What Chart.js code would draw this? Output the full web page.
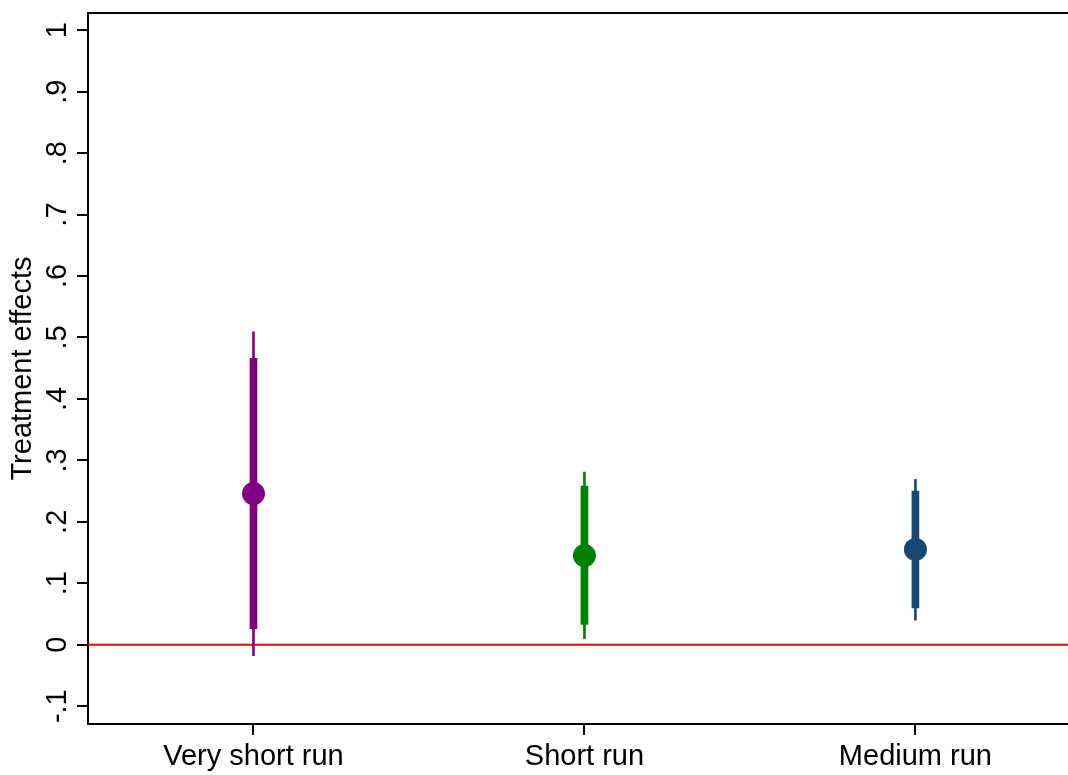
<!DOCTYPE html>
<html lang="en">
<head>
  <meta charset="UTF-8">
  <title>Treatment effects</title>
  <script src="https://cdn.jsdelivr.net/npm/chart.js"></script>
  <style>
    html, body {
      margin: 0;
      padding: 0;
      overflow: hidden;
      background: #fff;
    }
    canvas {
      display: block;
    }
  </style>
</head>
<body>
  <canvas id="effectsChart" width="1068" height="775"></canvas>
  <script>
    // data
    const categories = ['Very short run', 'Short run', 'Medium run'];
    const positions = [1, 2, 3];
    const estimates = [0.246, 0.145, 0.155];
    const ci90Low = [0.026, 0.033, 0.060];
    const ci90High = [0.466, 0.258, 0.250];
    const ci95Low = [-0.018, 0.010, 0.040];
    const ci95High = [0.509, 0.281, 0.269];
    const colors = ['#800080', '#008000', '#1a476f'];
    const yTicks = [-0.1, 0, 0.1, 0.2, 0.3, 0.4, 0.5, 0.6, 0.7, 0.8, 0.9, 1];
    const yTickLabels = ['-.1', '0', '.1', '.2', '.3', '.4', '.5', '.6', '.7', '.8', '.9', '1'];
    const refLine = 0;

    const FONT = 'Arial, "Liberation Sans", sans-serif';
    const FONT_SIZE = 29;

    // red reference line, top frame line and rotated y tick labels
    const frameAndLabels = {
      id: 'frameAndLabels',
      beforeDatasetsDraw(chart) {
        const { ctx, chartArea, scales } = chart;
        const y0 = scales.y.getPixelForValue(refLine);
        ctx.save();
        ctx.strokeStyle = '#ff0000';
        ctx.lineWidth = 2;
        ctx.beginPath();
        ctx.moveTo(chartArea.left, y0);
        ctx.lineTo(chartArea.right, y0);
        ctx.stroke();
        ctx.strokeStyle = '#000';
        ctx.beginPath();
        ctx.moveTo(chartArea.left - 1, chartArea.top);
        ctx.lineTo(chartArea.right, chartArea.top);
        ctx.stroke();
        ctx.restore();
      },
      afterDraw(chart) {
        const { ctx, scales } = chart;
        ctx.save();
        ctx.fillStyle = '#000';
        ctx.font = FONT_SIZE + 'px ' + FONT;
        ctx.textAlign = 'center';
        ctx.textBaseline = 'alphabetic';
        yTicks.forEach((v, i) => {
          const py = scales.y.getPixelForValue(v);
          ctx.save();
          ctx.translate(66, py);
          ctx.rotate(-Math.PI / 2);
          ctx.fillText(yTickLabels[i], 0, 0);
          ctx.restore();
        });
        ctx.restore();
      }
    };

    const ctx = document.getElementById('effectsChart').getContext('2d');
    new Chart(ctx, {
      type: 'bar',
      data: {
        datasets: [
          {
            type: 'scatter',
            label: 'Estimate',
            data: positions.map((x, i) => ({ x: x, y: estimates[i] })),
            backgroundColor: colors,
            pointRadius: 11.5,
            pointHoverRadius: 11.5,
            borderWidth: 0,
            order: 0
          },
          {
            label: '90% CI',
            data: positions.map((x, i) => ({ x: x, y: [ci90Low[i], ci90High[i]] })),
            backgroundColor: colors,
            barThickness: 7,
            grouped: false,
            borderWidth: 0,
            order: 1
          },
          {
            label: '95% CI',
            data: positions.map((x, i) => ({ x: x, y: [ci95Low[i], ci95High[i]] })),
            backgroundColor: colors,
            barThickness: 2,
            grouped: false,
            borderWidth: 0,
            order: 2
          }
        ]
      },
      options: {
        responsive: false,
        animation: false,
        layout: { autoPadding: false, padding: { top: 13, right: 0, left: 0, bottom: 0 } },
        plugins: {
          legend: { display: false },
          tooltip: { enabled: false }
        },
        scales: {
          x: {
            type: 'linear',
            offset: false,
            min: 0.5,
            max: 3.461,
            afterBuildTicks: (scale) => {
              scale.ticks = positions.map(v => ({ value: v }));
            },
            afterFit: (scale) => {
              scale.height = 51;
              scale.paddingRight = 0;
              scale.paddingLeft = 0;
            },
            ticks: {
              color: '#000',
              font: { size: FONT_SIZE, family: FONT },
              padding: 5,
              maxRotation: 0,
              callback: (v) => categories[positions.indexOf(v)]
            },
            grid: {
              offset: false,
              drawOnChartArea: false,
              drawTicks: true,
              tickLength: 11,
              color: '#000',
              lineWidth: 2
            },
            border: { display: true, color: '#000', width: 2 }
          },
          y: {
            min: -0.129,
            max: 1.028,
            afterBuildTicks: (scale) => {
              scale.ticks = yTicks.map(v => ({ value: v }));
            },
            afterFit: (scale) => { scale.width = 88; },
            ticks: { display: false },
            title: {
              display: true,
              text: 'Treatment effects',
              color: '#000',
              font: { size: FONT_SIZE, family: FONT },
              padding: { top: 6, bottom: 0 }
            },
            grid: {
              drawOnChartArea: false,
              drawTicks: true,
              tickLength: 11,
              color: '#000',
              lineWidth: 2
            },
            border: { display: true, color: '#000', width: 2 }
          }
        }
      },
      plugins: [frameAndLabels]
    });
  </script>
</body>
</html>
